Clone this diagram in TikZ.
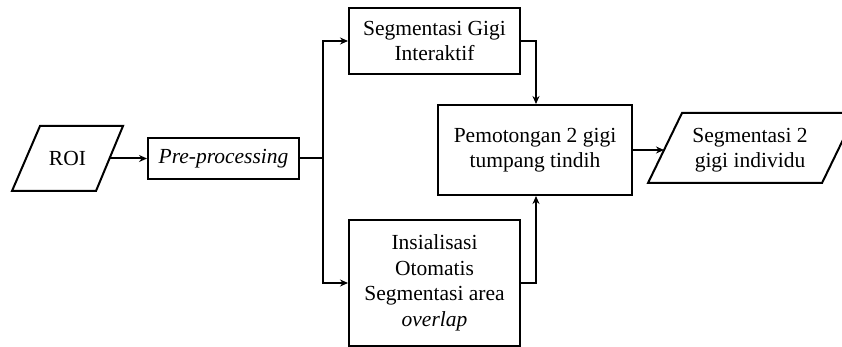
\documentclass[tikz,border=0pt]{standalone}
\usepackage{fontspec}
\setmainfont{Liberation Serif}
\usetikzlibrary{arrows.meta,calc}
\begin{document}
\begin{tikzpicture}[x=1pt,y=-1pt,
  every node/.style={font=\fontsize{21.5}{25.5}\selectfont, align=center, inner sep=0pt},
  procbox/.style={draw, line width=2pt, rectangle},
  outline/.style={line width=2pt, line join=miter},
  flow/.style={line width=2pt, -{Stealth[length=8pt,width=7pt]}},
  link/.style={line width=2pt}]
\useasboundingbox (0,0) rectangle (842,347);
\clip (0,0) rectangle (842,347);

% input / output labels (parallelogram outlines drawn below)
\node (roi) at (67.5,158.5) {ROI};
\node (out) at (750,150) {Segmentasi 2\\gigi individu};

% process boxes
\node[procbox, minimum width=151pt, minimum height=41pt] (pre) at (223.5,158.5) {\textit{Pre-processing}};
\node[procbox, minimum width=171pt, minimum height=66pt] (seg) at (434.5,41) {Segmentasi Gigi\\Interaktif};
\node[procbox, minimum width=171pt, minimum height=126pt] (ins) at (434.5,283) {Insialisasi\\Otomatis\\Segmentasi area\\\textit{overlap}};
\node[procbox, minimum width=194pt, minimum height=90pt] (pot) at (535,150) {Pemotongan 2 gigi\\tumpang tindih};

% parallelogram outlines
\draw[outline] (12,191) -- (40,126) -- (123,126) -- (96,191) -- cycle;
\draw[outline] (648,183) -- (682,113) -- (856,113) -- (822,183) -- cycle;

% attachment points on the slanted sides
\coordinate (roiR) at (109.5,158.5);
\coordinate (outL) at (664,150);
% branching point after pre-processing
\coordinate (split) at (323,158.5);

\draw[flow] (roiR) -- (pre.west);
\draw[link] (pre.east) -- (split);
\draw[flow] (split) |- (seg.west);
\draw[flow] (split) |- (ins.west);
\draw[flow] (seg.east) -| ([xshift=1pt]pot.north);
\draw[flow] (ins.east) -| ([xshift=1pt]pot.south);
\draw[flow] (pot.east) -- (outL);
\end{tikzpicture}
\end{document}
